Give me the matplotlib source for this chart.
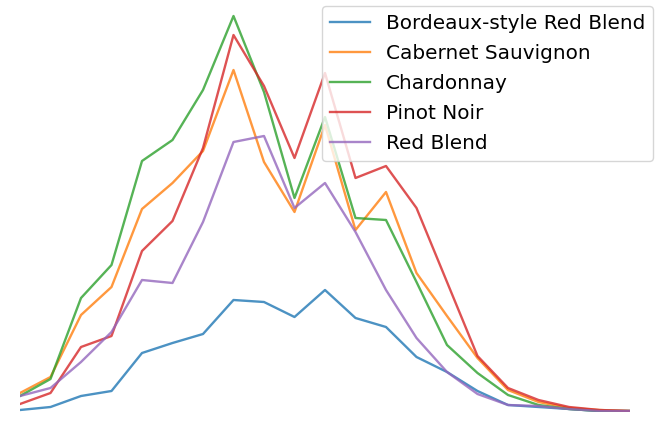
import matplotlib
matplotlib.use("Agg")
import matplotlib.pyplot as plt

# Wine review points (x) vs. number of reviews
points = list(range(80, 101))

bordeaux = [2, 5, 16, 21, 59, 69, 78, 112, 110, 95, 122, 94, 85, 55, 40, 21, 7, 5, 3, 1, 1]
cabernet = [19, 35, 97, 125, 203, 229, 261, 342, 250, 200, 287, 182, 220, 139, 96, 54, 22, 10, 4, 2, 1]
chardonnay = [16, 33, 114, 147, 251, 272, 322, 396, 320, 214, 295, 194, 192, 130, 67, 39, 17, 7, 3, 1, 1]
pinot_noir = [8, 19, 65, 76, 161, 191, 264, 377, 326, 254, 339, 234, 246, 204, 130, 56, 24, 12, 5, 2, 1]
red_blend = [16, 24, 50, 80, 132, 129, 190, 270, 276, 204, 229, 180, 122, 74, 40, 18, 7, 6, 3, 1, 1]

labels = ["Bordeaux-style Red Blend", "Cabernet Sauvignon", "Chardonnay",
          "Pinot Noir", "Red Blend"]
series = [bordeaux, cabernet, chardonnay, pinot_noir, red_blend]

W, H = 658, 430
fig = plt.figure(figsize=(W / 100, H / 100), dpi=100)
ax = fig.add_axes([20 / W, (H - 412) / H, 610 / W, 400 / H])

for vals, lab in zip(series, labels):
    ax.plot(points, vals, label=lab, linewidth=1.7, alpha=0.8)

ax.set_xlim(80, 100)
ax.set_ylim(0, 400)
ax.axis("off")

ax.legend(loc="upper right", bbox_to_anchor=(653 / W, 1 - 6 / H),
          bbox_transform=fig.transFigure, borderaxespad=0, fontsize=14.4,
          labelspacing=0.55)

fig.savefig("out.png", dpi=100)
